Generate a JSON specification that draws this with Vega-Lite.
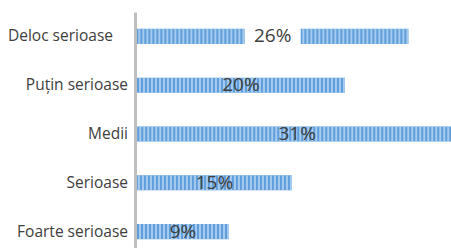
{
  "$schema": "https://vega.github.io/schema/vega-lite/v6.json",
  "width": 314,
  "height": 236,
  "autosize": "none",
  "padding": {"left": 137, "top": 12, "right": 0, "bottom": 0},
  "config": {"view": {"stroke": null}, "font": "Open Sans"},
  "data": {
    "values": [
      {"category": "Deloc serioase", "value": 26.1, "label": "26%"},
      {"category": "Puțin serioase", "value": 20.0, "label": "20%"},
      {"category": "Medii", "value": 30.8, "label": "31%"},
      {"category": "Serioase", "value": 14.9, "label": "15%"},
      {"category": "Foarte serioase", "value": 8.85, "label": "9%"}
    ]
  },
  "transform": [{"calculate": "datum.value / 2", "as": "mid"}],
  "encoding": {
    "y": {
      "field": "category",
      "type": "nominal",
      "sort": null,
      "scale": {"range": [0, 244], "paddingInner": 0.69, "paddingOuter": 0.345},
      "axis": {
        "title": null,
        "offset": 2,
        "ticks": false,
        "tickSize": 0,
        "labels": false,
        "domainColor": "#BFBFBF",
        "domainWidth": 3
      }
    }
  },
  "layer": [
    {
      "mark": {"type": "bar", "color": "#5F9EDB", "clip": true},
      "encoding": {
        "x": {"field": "value", "type": "quantitative", "scale": {"domain": [0, 30.2], "nice": false, "zero": true}, "axis": null}
      }
    },
    {
      "mark": {"type": "rule", "color": "#A7CBEF", "strokeWidth": 15, "strokeDash": [2, 2], "clip": true},
      "encoding": {
        "x": {"field": "value", "type": "quantitative"},
        "x2": {"datum": 0}
      }
    },
    {
      "transform": [{"filter": "datum.category == 'Deloc serioase'"}],
      "mark": {"type": "point", "shape": "M-1,-0.36H1V0.36H-1Z", "filled": true, "color": "white", "opacity": 1, "size": 3136},
      "encoding": {
        "x": {"field": "mid", "type": "quantitative"}
      }
    },
    {
      "mark": {"type": "text", "fontSize": 19, "color": "#404040", "font": "Open Sans", "align": "center", "baseline": "middle"},
      "encoding": {
        "x": {"field": "mid", "type": "quantitative"},
        "text": {"field": "label"}
      }
    },
    {
      "transform": [{"filter": "datum.category == 'Deloc serioase'"}],
      "mark": {"type": "text", "fontSize": 15.5, "color": "#404040", "font": "Open Sans", "align": "right", "baseline": "middle", "dx": -24},
      "encoding": {
        "x": {"datum": 0, "type": "quantitative"},
        "text": {"field": "category"}
      }
    },
    {
      "transform": [{"filter": "datum.category != 'Deloc serioase'"}],
      "mark": {"type": "text", "fontSize": 15.5, "color": "#404040", "font": "Open Sans", "align": "right", "baseline": "middle", "dx": -9},
      "encoding": {
        "x": {"datum": 0, "type": "quantitative"},
        "text": {"field": "category"}
      }
    }
  ]
}
